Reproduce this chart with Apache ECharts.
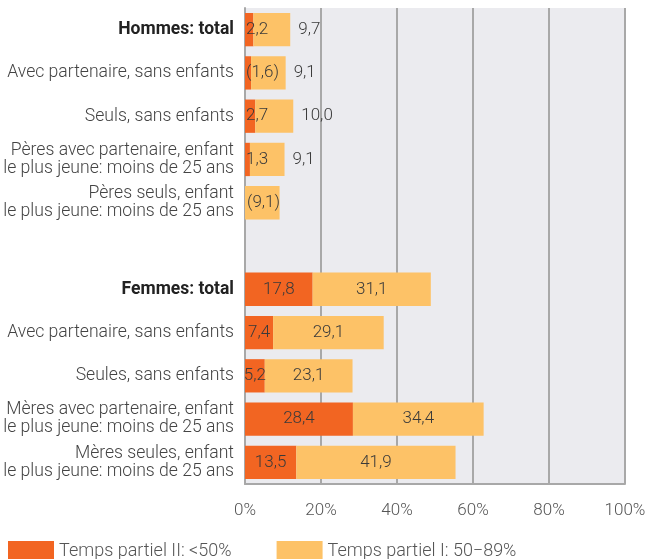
<!DOCTYPE html>
<html>
<head>
<meta charset="utf-8">
<script src="https://cdn.jsdelivr.net/npm/echarts@6/dist/echarts.min.js"></script>
<style>
  html, body { margin: 0; padding: 0; background: #fff; }
  #chart { width: 648px; height: 559px; }
</style>
</head>
<body>
<div id="chart"></div>
<script>
// categories, top to bottom ('' = gap between the two groups)
var categories = [
  "{b|Hommes: total}",
  "Avec partenaire, sans enfants",
  "Seuls, sans enfants",
  "Pères avec partenaire, enfant\nle plus jeune: moins de 25 ans",
  "Pères seuls, enfant\nle plus jeune: moins de 25 ans",
  "",
  "{b|Femmes: total}",
  "Avec partenaire, sans enfants",
  "Seules, sans enfants",
  "Mères avec partenaire, enfant\nle plus jeune: moins de 25 ans",
  "Mères seules, enfant\nle plus jeune: moins de 25 ans"
];

// Temps partiel II: <50%
var partielII = [2.2, 1.6, 2.7, 1.3, null, null, 17.8, 7.4, 5.2, 28.4, 13.5];
// Temps partiel I: 50-89%
var partielI = [9.7, 9.1, 10.0, 9.1, 9.1, null, 31.1, 29.1, 23.1, 34.4, 41.9];
// values shown in brackets (small sample)
var bracketII = [false, true, false, false, false, false, false, false, false, false, false];
var bracketI = [false, false, false, false, true, false, false, false, false, false, false];

var xTicks = [0, 20, 40, 60, 80, 100];

function fmt(v, br) {
  var s = v.toFixed(1).replace(".", ",");
  return br ? "(" + s + ")" : s;
}

var men = 5; // first rows belong to the men group

var darkData = partielII.map(function (v, i) {
  if (v == null) return null;
  return {
    value: v,
    label: {
      position: i < men ? "insideLeft" : "inside",
      distance: 1,
      formatter: fmt(v, bracketII[i])
    }
  };
});

var lightData = partielI.map(function (v, i) {
  if (v == null) return null;
  var pos = "inside";
  if (partielII[i] == null) pos = "insideLeft";
  else if (i < men) pos = "right";
  return {
    value: v,
    label: {
      position: pos,
      distance: pos == "right" ? 8 : 2,
      formatter: fmt(v, bracketI[i])
    }
  };
});

var chart = echarts.init(document.getElementById("chart"));

var labelStyle = {
  show: true,
  color: "#3a3a3a",
  fontFamily: "Roboto",
  fontWeight: 300,
  fontSize: 17
};

var option = {
  animation: false,
  textStyle: { fontFamily: "Roboto" },
  grid: {
    left: 245,
    right: 23,
    top: 8,
    bottom: 75,
    outerBoundsMode: "none",
    show: true,
    backgroundColor: "#ebebef",
    borderWidth: 0
  },
  legend: {
    left: 3,
    top: 536,
    itemWidth: 46,
    itemHeight: 21,
    itemGap: 45,
    textStyle: { fontFamily: "Roboto", fontWeight: 300, fontSize: 18, color: "#555" },
    data: [
      { name: "Temps partiel II: <50%", icon: "rect" },
      { name: "Temps partiel I: 50\u221289%", icon: "rect" }
    ]
  },
  xAxis: {
    type: "value",
    min: xTicks[0],
    max: xTicks[xTicks.length - 1],
    interval: 20,
    axisLine: { show: true, lineStyle: { color: "#a8a8a8", width: 2 } },
    axisTick: { show: false },
    splitLine: { show: true, lineStyle: { color: "#a8a8a8", width: 2 } },
    axisLabel: {
      margin: 18,
      fontFamily: "Roboto",
      fontWeight: 300,
      fontSize: 17,
      color: "#555",
      formatter: "{value}%"
    }
  },
  yAxis: {
    type: "category",
    inverse: true,
    data: categories,
    axisLine: { show: true, lineStyle: { color: "#a8a8a8", width: 2 } },
    axisTick: { show: false },
    axisLabel: {
      margin: 11,
      fontFamily: "Roboto",
      fontWeight: 300,
      fontSize: 17.6,
      lineHeight: 18,
      color: "#444",
      rich: {
        b: { fontWeight: "bold", fontSize: 17.5, color: "#222", fontFamily: "Roboto" }
      }
    }
  },
  series: [
    {
      name: "Temps partiel II: <50%",
      type: "bar",
      stack: "tp",
      barCategoryGap: "23%",
      itemStyle: { color: "#f26522" },
      label: labelStyle,
      data: darkData
    },
    {
      name: "Temps partiel I: 50\u221289%",
      type: "bar",
      stack: "tp",
      barCategoryGap: "23%",
      itemStyle: { color: "#fdc267" },
      label: labelStyle,
      data: lightData
    }
  ]
};

chart.setOption(option);

window.addEventListener("resize", function () {
  chart.resize();
});
</script>
</body>
</html>
